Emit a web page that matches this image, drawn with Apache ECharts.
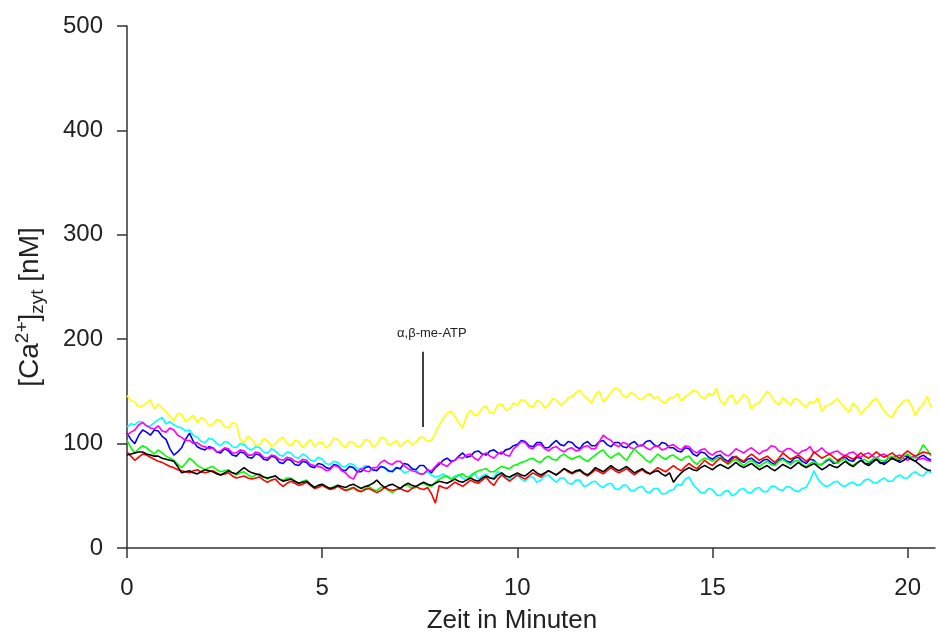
<!DOCTYPE html>
<html>
<head>
<meta charset="utf-8">
<script src="https://cdn.jsdelivr.net/npm/echarts@6/dist/echarts.min.js"></script>
<style>html,body{margin:0;padding:0;background:#fff}#c{width:939px;height:640px}</style>
</head>
<body>
<div id="c"></div>
<script>
// sampling interval of the traces (minutes); one row below = one minute
const STEP = 0.1;
const xTicks = [0, 5, 10, 15, 20];
const yTicks = [0, 100, 200, 300, 400, 500];

const yellow = [
146,141,140,135,136,139,142,133,138,134,
131,126,122,129,128,121,124,127,120,125,
123,117,118,123,122,116,115,120,119,104,
101,107,104,98,99,105,103,97,100,104,
106,100,98,103,102,96,100,104,97,101,
101,96,99,105,104,99,96,102,101,97,
98,104,103,97,99,106,105,99,100,103,
97,101,103,99,101,106,106,102,103,110,
118,124,129,131,126,120,115,127,132,127,
128,134,136,129,130,137,138,132,133,139,
137,142,141,136,135,141,140,134,137,143,
142,137,139,144,145,149,151,146,143,139,
147,150,140,144,149,153,152,146,144,149,
147,143,142,146,148,143,145,140,139,144,
144,148,141,145,147,151,150,145,143,148,
146,153,141,137,144,147,138,142,147,144,
133,138,139,145,150,146,140,137,144,140,
137,143,142,138,135,140,139,144,131,136,
137,140,143,138,134,130,139,135,128,133,
136,141,143,137,131,127,125,132,137,141,
142,136,127,134,138,145,135];

const cyan = [
116,119,118,121,121,117,117,120,123,125,
119,121,118,116,115,112,113,108,106,102,
101,105,104,100,98,102,101,97,96,100,
99,95,94,97,96,92,91,95,93,89,
88,92,91,87,86,90,88,84,83,87,
85,81,80,83,82,78,78,81,80,76,
76,79,78,74,75,78,77,73,74,77,
76,72,73,76,75,71,71,73,70,68,
69,71,68,66,69,70,67,65,70,72,
66,69,71,67,68,73,72,67,66,70,
70,66,64,68,68,63,65,69,70,66,
63,67,67,62,61,65,65,59,60,63,
64,60,58,61,62,57,56,60,60,55,
55,58,59,54,53,57,57,52,52,55,
56,61,60,66,68,61,57,53,53,57,
56,51,50,54,55,50,52,56,57,53,
53,57,58,54,54,59,59,56,55,59,
58,55,54,57,58,65,74,66,62,59,
60,63,64,60,59,62,63,60,61,65,
66,63,62,65,67,64,64,68,70,67,
67,71,73,70,69,74,72];

const blue = [
110,104,100,108,113,111,108,113,112,107,
104,95,89,92,96,104,110,102,97,95,
94,97,96,92,91,95,93,89,88,92,
91,87,86,90,89,85,84,88,87,82,
81,85,84,80,79,83,82,78,77,81,
80,77,76,80,79,75,74,78,77,73,
73,77,78,75,74,78,77,74,73,77,
76,81,80,76,75,79,79,75,72,77,
80,84,86,83,84,88,91,87,88,92,
93,90,89,93,94,91,90,94,95,98,
99,103,102,98,97,101,101,96,96,100,
103,99,98,102,101,97,95,100,102,98,
98,102,103,99,97,101,101,97,96,100,
102,98,98,102,103,99,97,101,100,96,
96,93,92,96,95,90,88,92,91,87,
85,88,89,85,83,87,87,84,82,85,
86,83,81,84,85,82,80,84,86,83,
82,86,87,83,81,85,84,80,80,83,
85,81,82,86,87,84,83,87,86,81,
81,84,85,81,82,86,87,84,84,88,
88,85,83,87,89,86,84];

const magenta = [
108,111,113,118,120,117,115,114,117,112,
111,115,113,108,106,103,103,100,101,98,
97,95,96,92,93,96,95,91,91,94,
93,89,89,92,91,87,86,89,88,85,
84,87,86,83,82,85,84,80,79,78,
77,74,75,79,78,74,72,68,66,73,
76,74,73,77,77,82,84,81,80,83,
83,79,76,74,73,71,71,75,74,78,
82,80,78,82,84,87,86,89,90,86,
84,89,91,88,86,90,92,89,88,95,
98,102,101,96,95,99,99,95,93,96,
97,94,92,95,96,93,94,97,98,95,
95,102,108,105,103,99,97,101,100,96,
95,98,99,96,94,97,98,94,95,98,
99,96,94,98,97,93,91,94,95,91,
89,92,93,90,88,91,95,93,91,94,
96,93,90,93,94,98,97,93,92,95,
95,92,90,93,94,97,91,93,96,92,
90,92,93,90,88,91,92,89,87,90,
91,88,86,89,90,87,85,88,89,86,
84,87,88,85,86,84,83];

const green = [
103,96,91,95,98,96,93,90,94,91,
88,86,84,80,77,81,86,83,79,77,
75,77,78,75,73,74,75,72,70,72,
73,70,68,70,71,68,66,68,69,66,
65,67,67,64,62,64,65,61,58,60,
61,58,57,59,60,57,55,57,58,56,
54,57,59,56,55,58,58,55,53,56,
57,60,60,57,58,61,62,60,59,63,
66,68,69,66,67,70,71,68,68,72,
74,75,76,73,73,76,78,77,76,79,
80,82,83,85,86,83,82,86,88,85,
84,88,90,87,85,87,88,85,83,86,
89,92,94,89,86,89,91,87,84,90,
95,91,88,84,82,86,90,87,85,88,
89,86,84,87,88,83,80,84,86,85,
83,86,87,83,80,83,85,82,79,82,
84,81,78,81,83,80,79,83,85,82,
80,83,84,80,78,81,83,80,80,84,
86,83,81,84,85,81,79,82,84,85,
82,85,87,84,83,86,88,86,85,88,
90,87,86,92,99,94,88];

const red = [
92,88,84,87,90,89,87,85,83,82,
80,78,77,75,74,73,72,74,75,73,
72,73,74,72,70,71,72,69,67,68,
69,67,66,67,68,65,63,65,66,62,
59,62,64,62,60,61,63,60,57,58,
60,58,56,57,59,57,55,56,58,55,
54,56,57,55,53,55,58,56,55,56,
57,55,54,57,59,57,56,58,52,43,
60,58,57,60,63,61,59,62,65,63,
62,65,68,63,60,66,70,67,64,67,
70,68,66,69,72,70,68,71,74,72,
70,73,76,73,71,73,74,71,69,72,
75,73,71,74,77,74,72,74,76,73,
70,73,75,72,71,74,77,75,73,76,
79,76,74,78,81,78,76,80,84,81,
79,83,86,83,81,85,88,85,83,87,
90,87,84,86,88,85,82,86,91,88,
85,87,89,86,83,86,92,89,86,88,
90,87,84,86,89,87,85,88,91,88,
86,89,92,89,87,89,91,88,86,90,
93,90,88,90,92,91,90];

const black = [
89,90,91,92,92,90,89,88,88,86,
85,84,83,78,72,73,74,72,71,73,
75,74,73,71,70,72,74,72,71,74,
77,74,72,71,70,68,67,68,69,66,
64,65,66,64,62,63,64,61,58,60,
61,59,57,58,60,59,58,60,61,59,
57,59,60,62,65,61,58,60,61,59,
57,60,62,60,59,61,63,61,60,62,
64,63,62,64,66,64,63,65,67,65,
64,67,69,67,66,70,72,69,68,70,
72,70,69,72,75,72,70,72,74,72,
70,73,76,74,72,74,75,72,70,73,
77,75,73,76,79,76,74,76,78,75,
72,74,76,73,71,73,74,71,69,72,
63,68,72,75,77,75,74,77,79,77,
75,78,80,78,76,79,82,79,77,79,
81,78,75,77,79,76,74,77,80,78,
76,79,82,79,77,79,81,78,75,77,
80,78,77,80,83,80,78,81,84,81,
79,82,85,82,80,83,86,84,82,84,
87,85,83,80,77,75,74];

const stimulusTime = 7.58;
const stimulusRange = [116, 188];
const stimulusLabel = 'α,β-me-ATP';

function pts(arr){ return arr.map((v,i)=>[+(i*STEP).toFixed(2), v]); }

const traces = [
  ['yellow', yellow, '#ffff00'],
  ['cyan', cyan, '#00ffff'],
  ['blue', blue, '#0000ff'],
  ['magenta', magenta, '#ff00ff'],
  ['green', green, '#00ff00'],
  ['red', red, '#ff0000'],
  ['black', black, '#000000']
];

const font = 'Liberation Sans, Arial, sans-serif';
const chart = echarts.init(document.getElementById('c'));
const series = traces.map(([name, arr, col]) => ({
  name, type:'line', data: pts(arr), showSymbol:false, symbol:'none',
  lineStyle:{color:col, width:1.6}, itemStyle:{color:col}, animation:false
}));
series[0].markLine = {
  silent:true, symbol:['none','none'],
  lineStyle:{color:'#000', width:1.5, type:'solid'},
  label:{show:true, position:'end', formatter:stimulusLabel, fontSize:13, color:'#222',
    fontFamily:font, distance:12, padding:[0,0,0,18]},
  data:[[{coord:[stimulusTime, stimulusRange[0]]},{coord:[stimulusTime, stimulusRange[1]]}]]
};

chart.setOption({
  animation:false,
  grid:{left:127, right:4, top:26, bottom:92},
  xAxis:{
    type:'value', min:0, max:20.7, interval:5,
    name:'Zeit in Minuten', nameLocation:'middle', nameGap:60,
    nameTextStyle:{fontSize:26, color:'#222', fontFamily:font, padding:[0,38,0,0]},
    axisLine:{lineStyle:{color:'#333', width:1.5}},
    axisTick:{length:10, lineStyle:{color:'#333', width:1.5}},
    axisLabel:{fontSize:24, color:'#222', fontFamily:font, margin:28, showMaxLabel:false,
      formatter:v=> xTicks.includes(v) ? String(v) : ''},
    splitLine:{show:false}
  },
  yAxis:{
    type:'value', min:0, max:500, interval:100,
    name:'{a|[Ca}{sup|2+}{a|]}{sub|zyt}{a| [nM]}', nameLocation:'middle', nameGap:80,
    nameTextStyle:{fontFamily:font, color:'#222', padding:[0,40,0,0],
      rich:{
        a:{fontSize:28, fontFamily:font, color:'#222', lineHeight:34},
        sup:{fontSize:19, fontFamily:font, color:'#222', verticalAlign:'top', lineHeight:34, padding:[0,0,12,0]},
        sub:{fontSize:19, fontFamily:font, color:'#222', verticalAlign:'bottom', lineHeight:34, padding:[10,0,0,0]}
      }},
    axisLine:{show:true, lineStyle:{color:'#333', width:1.5}},
    axisTick:{show:true, length:10, lineStyle:{color:'#333', width:1.5}},
    axisLabel:{fontSize:24, color:'#222', fontFamily:font, margin:24,
      formatter:v=> yTicks.includes(v) ? String(v) : ''},
    splitLine:{show:false}
  },
  series
});
</script>
</body>
</html>
